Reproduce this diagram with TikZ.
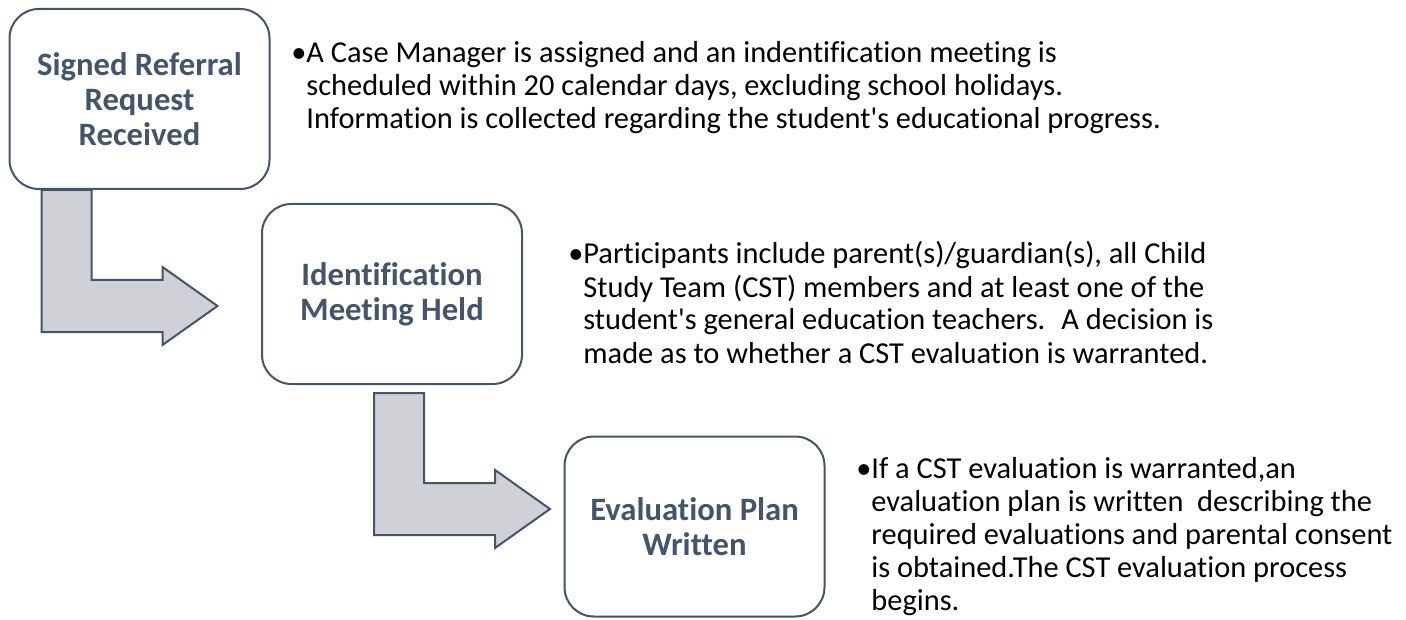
\documentclass[tikz,border=0pt]{standalone}
\usepackage{fontspec}
\setmainfont{Carlito}[Ligatures={NoCommon,TeXOff}]
\definecolor{slate}{RGB}{68,84,106}
\definecolor{arrowgray}{RGB}{208,209,214}
\begin{document}
\begin{tikzpicture}[x=0.75pt, y=-0.75pt,
    box/.style={draw=slate, line width=1.5pt, rounded corners=22pt, minimum width=195pt, minimum height=135pt,
      inner sep=0pt, outer sep=0pt, align=center, text=slate, font=\fontsize{24.5pt}{26.5pt}\selectfont\bfseries},
    note/.style={anchor=base west, inner sep=0pt, font=\fontsize{22.8pt}{24.75pt}\selectfont},
    bent/.style={draw=slate, fill=arrowgray, line width=1.5pt, line join=miter}]
  \useasboundingbox (0,0) rectangle (1406,620);
  \node (1) at (139.5,99) [box] {Signed Referral\\Request\\Received};
  \node (2) at (392,294) [box] {Identification\\Meeting Held};
  \node (3) at (694.5,526.5) [box] {Evaluation Plan\\Written};
  \node (4) at (291,63) [note] {\begin{tabular}[t]{@{}l@{}l@{}}
    •&A Case Manager is assigned and an indentification meeting is\\
    &scheduled within 20 calendar days, excluding school holidays.\\
    &Information is collected regarding the student's educational progress.\end{tabular}};
  \node (5) at (568,264) [note] {\begin{tabular}[t]{@{}l@{}l@{}}
    •&Participants include parent(s)/guardian(s), all Child\\
    &Study Team (CST) members and at least one of the\\
    &student's general education teachers.~ A decision is\\
    &made as to whether a CST evaluation is warranted.\end{tabular}};
  \node (6) at (856,478) [note] {\begin{tabular}[t]{@{}l@{}l@{}}
    •&If a CST evaluation is warranted,an\\
    &evaluation plan is written~ describing the\\
    &required evaluations and parental consent\\
    &is obtained.The CST evaluation process\\
    &begins.\end{tabular}};
  \foreach \src/\dx/\gap in {1/32/1, 2/112/9}
    \draw[bent] ([shift={(\dx,\gap)}]\src.south west) -- ++(0,142) -- ++(121,0) -- ++(0,13) -- ++(55,-39)
      -- ++(-55,-39) -- ++(0,13) -- ++(-71,0) -- ++(0,-90) -- cycle;
\end{tikzpicture}
\end{document}
